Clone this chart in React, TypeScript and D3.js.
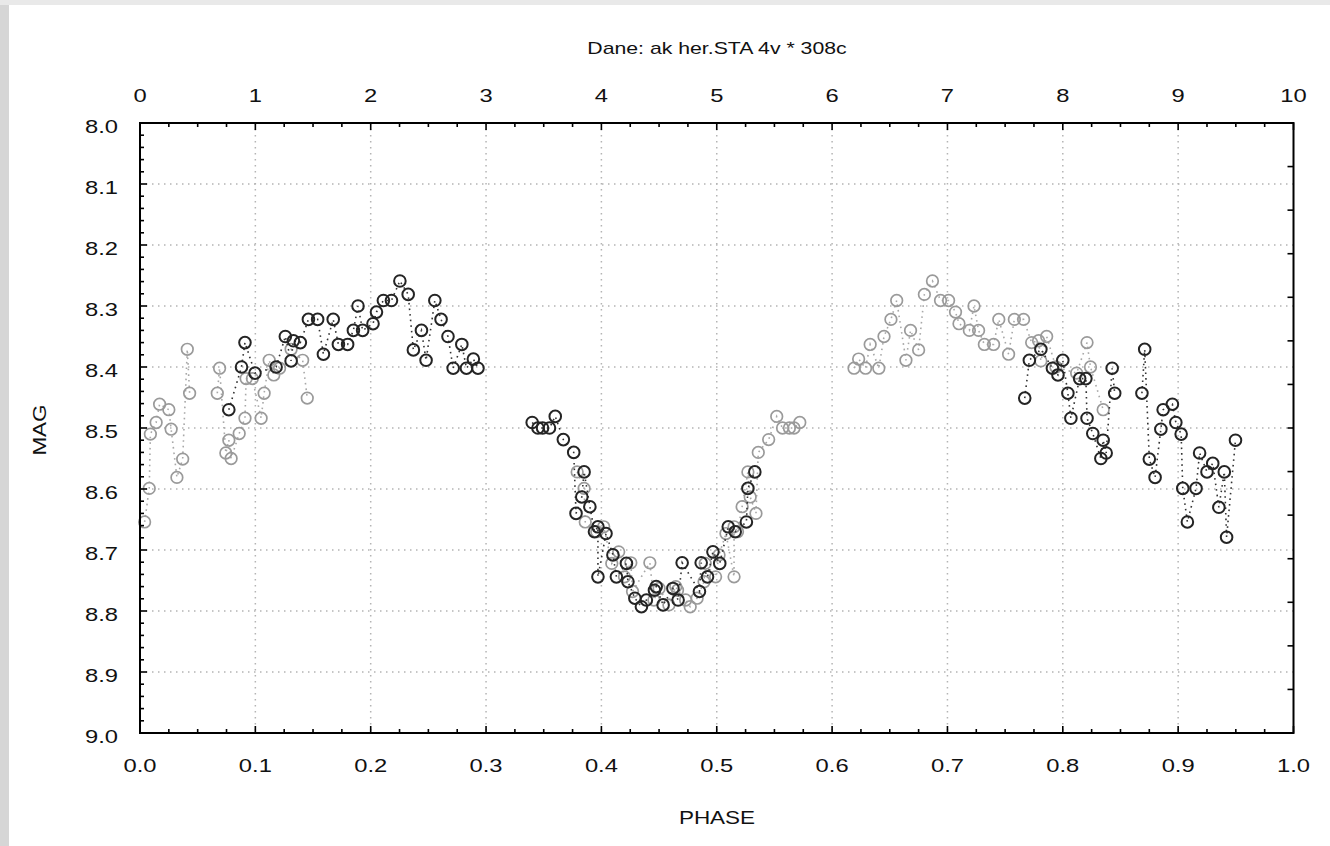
import React from 'react';
import * as d3 from 'd3';

// phase / magnitude pairs, one array per run (dark = measured, grey = reflected curve)
const darkNight1 = [
  [0.077, 8.47], [0.088, 8.4], [0.091, 8.36], [0.0997, 8.41], [0.118, 8.4], [0.126, 8.35],
  [0.131, 8.39], [0.133, 8.357], [0.139, 8.36], [0.146, 8.322], [0.154, 8.322], [0.159, 8.379],
  [0.1675, 8.322], [0.172, 8.363], [0.18, 8.363], [0.185, 8.34], [0.189, 8.3], [0.193, 8.34],
  [0.202, 8.329], [0.205, 8.31], [0.211, 8.291], [0.218, 8.291], [0.2253, 8.259], [0.2325, 8.281],
  [0.237, 8.372], [0.244, 8.34], [0.248, 8.389], [0.2556, 8.291], [0.261, 8.322], [0.267, 8.35],
  [0.2715, 8.402], [0.279, 8.363], [0.283, 8.402], [0.289, 8.387], [0.293, 8.402],
];
const darkNight2 = [
  [0.34, 8.491], [0.345, 8.5], [0.349, 8.5], [0.355, 8.5], [0.36, 8.481], [0.367, 8.519],
  [0.376, 8.54], [0.378, 8.64], [0.383, 8.613], [0.385, 8.572], [0.39, 8.629], [0.394, 8.67],
  [0.397, 8.662], [0.397, 8.744], [0.404, 8.673], [0.41, 8.708], [0.413, 8.744], [0.4217, 8.722],
  [0.423, 8.752], [0.429, 8.779], [0.4347, 8.793], [0.439, 8.782], [0.446, 8.766], [0.4475, 8.76],
  [0.4535, 8.79], [0.462, 8.763], [0.4665, 8.782], [0.47, 8.721], [0.485, 8.768], [0.4865, 8.721],
  [0.492, 8.744], [0.4967, 8.703], [0.5026, 8.722], [0.51, 8.662], [0.516, 8.67], [0.5257, 8.654],
  [0.527, 8.599], [0.533, 8.572],
];
const darkNight3 = [
  [0.767, 8.451], [0.771, 8.389], [0.781, 8.371], [0.791, 8.402], [0.7958, 8.413], [0.8, 8.389],
  [0.8044, 8.443], [0.807, 8.484], [0.8146, 8.419], [0.82, 8.419], [0.821, 8.484], [0.826, 8.509],
  [0.833, 8.55], [0.835, 8.52], [0.8376, 8.541], [0.8428, 8.402], [0.845, 8.443],
];
const darkNight4 = [
  [0.8686, 8.443], [0.871, 8.371], [0.875, 8.551], [0.88, 8.581], [0.885, 8.502], [0.887, 8.47],
  [0.895, 8.461], [0.898, 8.491], [0.9026, 8.51], [0.904, 8.599], [0.908, 8.654], [0.9155, 8.599],
  [0.9186, 8.541], [0.925, 8.572], [0.93, 8.558], [0.9353, 8.63], [0.94, 8.572], [0.942, 8.679],
  [0.9497, 8.52],
];
const greyNight1 = [
  [0.004, 8.654], [0.008, 8.599], [0.009, 8.51], [0.014, 8.491], [0.017, 8.461], [0.025, 8.47],
  [0.027, 8.502], [0.032, 8.581], [0.037, 8.551], [0.041, 8.371], [0.043, 8.443],
];
const greyNight2 = [
  [0.067, 8.443], [0.069, 8.402], [0.0744, 8.541], [0.077, 8.52], [0.079, 8.55], [0.086, 8.509],
  [0.091, 8.484], [0.092, 8.419], [0.0974, 8.419], [0.105, 8.484], [0.1076, 8.443], [0.112, 8.389],
  [0.116, 8.413], [0.121, 8.402], [0.131, 8.371], [0.141, 8.389], [0.145, 8.451],
];
const greyNight3 = [
  [0.379, 8.572], [0.385, 8.599], [0.386, 8.654], [0.396, 8.67], [0.402, 8.662], [0.409, 8.722],
  [0.415, 8.703], [0.42, 8.744], [0.4255, 8.721], [0.427, 8.768], [0.442, 8.721], [0.4455, 8.782],
  [0.45, 8.763], [0.4585, 8.79], [0.4645, 8.76], [0.466, 8.766], [0.473, 8.782], [0.477, 8.793],
  [0.483, 8.779], [0.489, 8.752], [0.49, 8.722], [0.499, 8.744], [0.502, 8.708], [0.508, 8.673],
  [0.515, 8.744], [0.515, 8.662], [0.518, 8.67], [0.522, 8.629], [0.527, 8.572], [0.529, 8.613],
  [0.534, 8.64], [0.536, 8.54], [0.545, 8.519], [0.552, 8.481], [0.557, 8.5], [0.563, 8.5],
  [0.567, 8.5], [0.572, 8.491],
];
const greyNight4 = [
  [0.619, 8.402], [0.623, 8.387], [0.629, 8.402], [0.633, 8.363], [0.6405, 8.402], [0.645, 8.35],
  [0.651, 8.322], [0.656, 8.291], [0.664, 8.389], [0.668, 8.34], [0.675, 8.372], [0.68, 8.281],
  [0.687, 8.259], [0.694, 8.291], [0.701, 8.291], [0.707, 8.31], [0.71, 8.329], [0.719, 8.34],
  [0.723, 8.3], [0.727, 8.34], [0.732, 8.363], [0.74, 8.363], [0.7445, 8.322], [0.753, 8.379],
  [0.758, 8.322], [0.766, 8.322], [0.773, 8.36], [0.779, 8.357], [0.781, 8.39], [0.786, 8.35],
  [0.794, 8.4], [0.812, 8.41], [0.821, 8.36], [0.824, 8.4], [0.835, 8.47],
];

const phaseTicks = [0, 0.1, 0.2, 0.3, 0.4, 0.5, 0.6, 0.7, 0.8, 0.9, 1.0];
const magTicks = [8.0, 8.1, 8.2, 8.3, 8.4, 8.5, 8.6, 8.7, 8.8, 8.9, 9.0];
const topTicks = [0, 1, 2, 3, 4, 5, 6, 7, 8, 9, 10];

const W = 1330;
const H = 846;
const left = 140;
const right = 1293.5;
const top = 123;
const bottom = 733;
const FONT = '"Liberation Sans", Arial, sans-serif';
const SX = 1.25;

const T = ({ x, y, anchor = 'middle', size = 19, rot = 0, children }) => (
  <text
    transform={`translate(${x},${y}) rotate(${rot}) scale(${SX},1)`}
    textAnchor={anchor}
    fontSize={size}
    fontFamily={FONT}
    fill="#111"
  >
    {children}
  </text>
);

export default function App() {
  const x = d3.scaleLinear().domain([0, 1]).range([left, right]);
  const y = d3.scaleLinear().domain([8, 9]).range([top, bottom]);
  const xTop = d3.scaleLinear().domain([0, 10]).range([left, right]);
  const yRight = d3.scaleLinear().domain([0, 14]).range([top, bottom]);

  const line = d3
    .line()
    .x((d) => x(d[0]))
    .y((d) => y(d[1]));

  const xMinor = d3.range(0, 1.0001, 0.025);
  const yMinor = d3.range(8, 9.0001, 0.02);
  const topMinor = d3.range(0, 10.0001, 0.25);

  const series = [
    { nights: [greyNight1, greyNight2, greyNight3, greyNight4], color: '#9a9a9a', lineColor: '#a8a8a8', sw: 1.7 },
    { nights: [darkNight1, darkNight2, darkNight3, darkNight4], color: '#242424', lineColor: '#333', sw: 2 },
  ];

  return (
    <svg width={W} height={H} style={{ position: 'absolute', left: 0, top: 0, background: '#fff' }}>
      <rect x={0} y={0} width={W} height={H} fill="#fff" />
      <rect x={0} y={0} width={9} height={H} fill="#d6d6d6" />
      <rect x={0} y={0} width={W} height={5} fill="#e9e9e9" />

      {/* grid */}
      {phaseTicks.slice(1, -1).map((t) => (
        <line key={'gx' + t} x1={x(t)} x2={x(t)} y1={top} y2={bottom}
          stroke="#b4b4b4" strokeWidth={1.5} strokeDasharray="1.5 4.5" />
      ))}
      {magTicks.slice(1, -1).map((t) => (
        <line key={'gy' + t} x1={left} x2={right} y1={y(t)} y2={y(t)}
          stroke="#b4b4b4" strokeWidth={1.5} strokeDasharray="1.5 4.5" />
      ))}

      {/* data */}
      {series.map((s, i) => (
        <g key={i}>
          {s.nights.map((n, j) => (
            <path key={j} d={line(n)} fill="none" stroke={s.lineColor}
              strokeWidth={1.6} strokeDasharray="1.6 4" />
          ))}
          {s.nights.flat().map((d, k) => (
            <circle key={k} cx={x(d[0])} cy={y(d[1])} r={5.8}
              fill="none" stroke={s.color} strokeWidth={s.sw} />
          ))}
        </g>
      ))}

      {/* frame */}
      <rect x={left} y={top} width={right - left} height={bottom - top}
        fill="none" stroke="#000" strokeWidth={2} />

      {/* ticks */}
      {yMinor.map((t, i) => (
        <line key={'yl' + i} x1={left} x2={left + (i % 5 === 0 ? 7 : 4)} y1={y(t)} y2={y(t)}
          stroke="#000" strokeWidth={1.6} />
      ))}
      {xMinor.map((t, i) => (
        <line key={'xb' + i} x1={x(t)} x2={x(t)} y1={bottom} y2={bottom - (i % 4 === 0 ? 7 : 4)}
          stroke="#000" strokeWidth={1.6} />
      ))}
      {topMinor.map((t, i) => (
        <line key={'xt' + i} x1={xTop(t)} x2={xTop(t)} y1={top} y2={top + (i % 4 === 0 ? 7 : 4)}
          stroke="#000" strokeWidth={1.6} />
      ))}
      {d3.range(0, 15).map((k) => (
        <line key={'yr' + k} x1={right} x2={right - 6} y1={yRight(k)} y2={yRight(k)}
          stroke="#000" strokeWidth={1.6} />
      ))}

      {/* tick labels */}
      {magTicks.map((t) => (
        <T key={'ly' + t} x={118} y={y(t) + 10} anchor="end" size={19}>{t.toFixed(1)}</T>
      ))}
      {phaseTicks.map((t) => (
        <T key={'lx' + t} x={x(t)} y={772} size={19}>{t.toFixed(1)}</T>
      ))}
      {topTicks.map((t) => (
        <T key={'lt' + t} x={xTop(t)} y={102} size={19}>{t}</T>
      ))}

      <T x={717} y={54} size={17}>Dane: ak her.STA 4v * 308c</T>
      <T x={717} y={824} size={18}>PHASE</T>
      <T x={46} y={430} size={18} rot={-90}>MAG</T>
    </svg>
  );
}
